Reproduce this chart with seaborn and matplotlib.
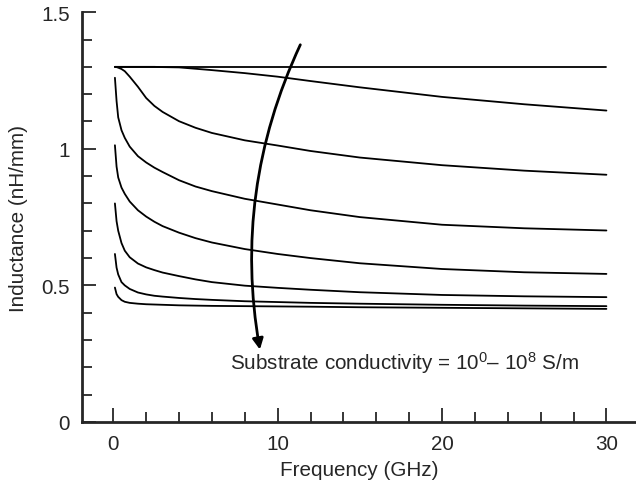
import numpy as np
import pandas as pd
import matplotlib
matplotlib.use("Agg")
import matplotlib.pyplot as plt
from matplotlib.ticker import MultipleLocator, FormatStrFormatter
import seaborn as sns

# Frequency grid (GHz) shared by all curves
freq = [0.1, 0.2, 0.3, 0.5, 0.7, 1, 1.5, 2, 2.5, 3, 4, 5, 6, 8, 10, 12, 15, 20, 25, 30]

# Inductance (nH/mm), one list per substrate conductivity, top to bottom
ind_a = [1.300] * len(freq)
ind_b = [1.300, 1.300, 1.300, 1.300, 1.300, 1.300, 1.300, 1.300, 1.300, 1.299, 1.298,
         1.293, 1.288, 1.277, 1.264, 1.248, 1.225, 1.190, 1.163, 1.140]
ind_c = [1.300, 1.299, 1.297, 1.292, 1.284, 1.264, 1.227, 1.186, 1.157, 1.135, 1.101,
         1.077, 1.058, 1.031, 1.012, 0.992, 0.968, 0.940, 0.920, 0.905]
ind_d = [1.260, 1.175, 1.115, 1.068, 1.040, 1.008, 0.973, 0.950, 0.931, 0.915, 0.885,
         0.862, 0.845, 0.817, 0.796, 0.775, 0.750, 0.722, 0.709, 0.701]
ind_e = [1.013, 0.935, 0.895, 0.858, 0.835, 0.807, 0.775, 0.752, 0.733, 0.717, 0.693,
         0.673, 0.657, 0.633, 0.615, 0.600, 0.581, 0.560, 0.548, 0.542]
ind_f = [0.800, 0.735, 0.700, 0.655, 0.627, 0.603, 0.580, 0.566, 0.556, 0.547, 0.534,
         0.522, 0.512, 0.499, 0.491, 0.484, 0.475, 0.465, 0.460, 0.457]
ind_g = [0.615, 0.565, 0.540, 0.512, 0.500, 0.487, 0.474, 0.467, 0.462, 0.459, 0.454,
         0.450, 0.447, 0.442, 0.439, 0.436, 0.433, 0.429, 0.426, 0.424]
ind_h = [0.492, 0.468, 0.458, 0.446, 0.440, 0.436, 0.433, 0.431, 0.430, 0.429, 0.427,
         0.426, 0.425, 0.424, 0.423, 0.422, 0.420, 0.418, 0.416, 0.414]

curves = ["a", "b", "c", "d", "e", "f", "g", "h"]
values = [ind_a, ind_b, ind_c, ind_d, ind_e, ind_f, ind_g, ind_h]

df = pd.concat(
    [pd.DataFrame({"freq": freq, "ind": v, "curve": c}) for c, v in zip(curves, values)],
    ignore_index=True,
)

sns.set_style("ticks")
plt.rcParams["font.family"] = ["Liberation Sans", "DejaVu Sans"]
plt.rcParams["mathtext.fontset"] = "custom"
plt.rcParams["mathtext.rm"] = "Liberation Sans"
plt.rcParams["mathtext.it"] = "Liberation Sans:italic"
plt.rcParams["mathtext.bf"] = "Liberation Sans:bold"

fs = 14.9

fig = plt.figure(figsize=(6.36, 4.89), dpi=100)
ax = fig.add_axes([0.129, 0.135, 0.871, 0.838])

sns.lineplot(data=df, x="freq", y="ind", hue="curve", palette=["black"] * len(curves),
             estimator=None, legend=False, linewidth=1.3, ax=ax)

ax.set_xlim(-1.9, 31.8)
ax.set_ylim(0, 1.5)
ax.xaxis.set_major_locator(MultipleLocator(10))
ax.xaxis.set_minor_locator(MultipleLocator(2))
ax.yaxis.set_major_locator(MultipleLocator(0.5))
ax.yaxis.set_minor_locator(MultipleLocator(0.1))
ax.yaxis.set_major_formatter(FormatStrFormatter("%g"))

sns.despine(ax=ax)
for s in ["left", "bottom"]:
    ax.spines[s].set_linewidth(2)
ax.tick_params(which="major", direction="in", length=10, width=1.3, labelsize=fs, pad=9)
ax.tick_params(which="minor", direction="in", length=7, width=1.3)

ax.set_xlabel("Frequency (GHz)", fontsize=fs, labelpad=5)
ax.set_ylabel("Inductance (nH/mm)", fontsize=fs, labelpad=9)

# curved arrow showing increasing conductivity
ax.annotate("", xy=(8.95, 0.255), xytext=(11.45, 1.39),
            arrowprops=dict(arrowstyle="-|>", color="black", lw=2,
                            mutation_scale=16, connectionstyle="arc3,rad=0.16"))
ax.text(7.1, 0.22, "Substrate conductivity = 10$^0$\u2013 10$^8$ S/m",
        fontsize=fs, va="center", ha="left")

fig.savefig("out.png", dpi=100)
